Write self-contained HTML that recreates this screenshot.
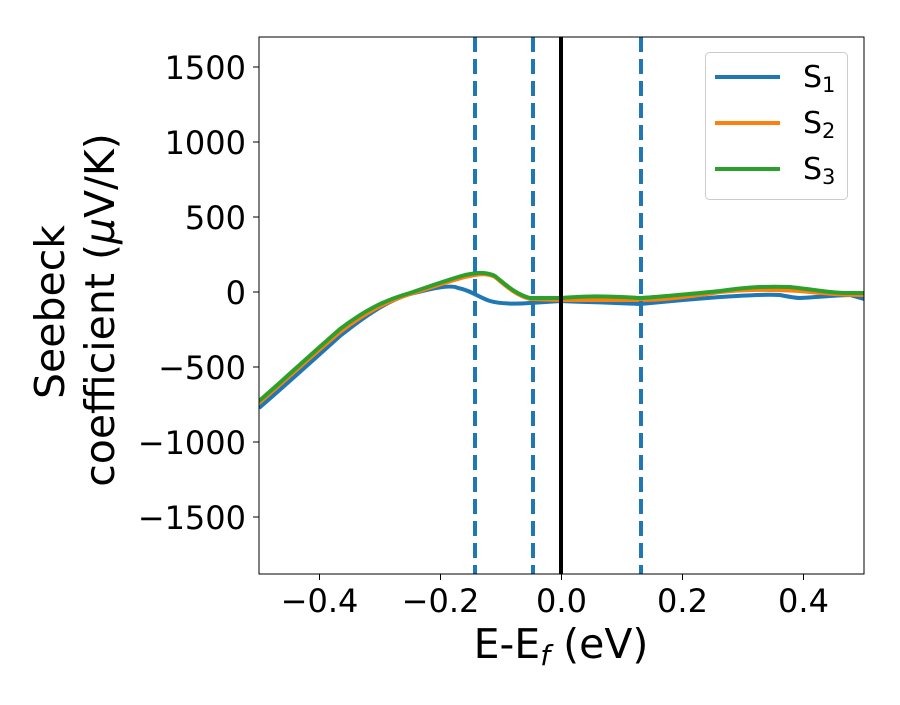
<!DOCTYPE html><html><head><style>body{margin:0;background:#fff}svg{font-family:"DejaVu Sans",sans-serif}</style></head><body>
<svg width="900" height="700" xmlns="http://www.w3.org/2000/svg">
<defs><clipPath id="c"><rect x="259" y="37" width="605" height="537"/></clipPath></defs>
<g clip-path="url(#c)" fill="none" stroke-width="4" stroke-linejoin="round">
<path stroke="#1f77b4" d="M259,408 C280,390 300,372 340,336 C370,312 390,300 410,294 C430,289 450,284 458,288 C470,290 480,298 490,301 C500,304 515,304 530,303 L561,301 C580,302 600,302 640,304 C660,302 680,300 720,297 C740,296 760,294 780,295 C790,297 795,298 800,298 C820,297 840,295 850,295 L864,299"/>
<path stroke="#ff7f0e" d="M259,403 C280,385 300,366 340,332 C365,313 385,302 410,294 C430,288 450,281 465,277 C475,275 485,272 495,277 C505,285 515,295 530,299 L561,300 L640,300 C660,300 680,298 720,292 C740,290 760,289 800,291 C820,293 840,295 864,295"/>
<path stroke="#2ca02c" d="M259,401 C280,383 300,364 340,329 C365,310 385,300 410,293 C430,286 450,279 465,275 C475,273 485,271 495,276 C505,284 515,294 530,298 L561,298 C575,297 590,295 640,298 C660,297 680,295 720,291 C740,288 760,286 790,287 C810,289 830,293 845,293 L864,293"/>
<g stroke="#1f77b4" stroke-width="4" stroke-dasharray="15,7"><line x1="475" y1="37" x2="475" y2="574"/><line x1="533" y1="37" x2="533" y2="574"/><line x1="641" y1="37" x2="641" y2="574"/></g>
<line x1="561" y1="37" x2="561" y2="574" stroke="#000" stroke-width="4"/>
</g>
<rect x="259" y="37" width="605" height="537" fill="none" stroke="#000" stroke-width="1"/>
<g stroke="#000" stroke-width="1">
<line x1="319.5" y1="574" x2="319.5" y2="580"/><line x1="440.5" y1="574" x2="440.5" y2="580"/><line x1="561.5" y1="574" x2="561.5" y2="580"/><line x1="682.5" y1="574" x2="682.5" y2="580"/><line x1="803.5" y1="574" x2="803.5" y2="580"/>
<line x1="253" y1="67" x2="259" y2="67"/><line x1="253" y1="142" x2="259" y2="142"/><line x1="253" y1="217" x2="259" y2="217"/><line x1="253" y1="292" x2="259" y2="292"/><line x1="253" y1="367" x2="259" y2="367"/><line x1="253" y1="442" x2="259" y2="442"/><line x1="253" y1="517" x2="259" y2="517"/>
</g>
<g font-size="32" fill="#000" text-anchor="middle">
<text x="319.5" y="612">−0.4</text><text x="440.5" y="612">−0.2</text><text x="561.5" y="612">0.0</text><text x="682.5" y="612">0.2</text><text x="803.5" y="612">0.4</text>
</g>
<g font-size="32" fill="#000" text-anchor="end">
<text x="246" y="79">1500</text><text x="246" y="154">1000</text><text x="246" y="229">500</text><text x="246" y="304">0</text><text x="246" y="379">−500</text><text x="246" y="454">−1000</text><text x="246" y="529">−1500</text>
</g>
<text x="561" y="658" font-size="41" text-anchor="middle">E-E<tspan font-style="italic" font-size="28" dy="7">f</tspan><tspan dy="-7"> (eV)</tspan></text>
<g font-size="41" text-anchor="middle">
<text transform="translate(64,312) rotate(-90)">Seebeck</text>
<text transform="translate(114,310) rotate(-90)">coefficient  (<tspan font-style="italic">μ</tspan>V/K)</text>
</g>
<rect x="705.5" y="52.5" width="142" height="147" rx="4" fill="#fff" stroke="#ccc"/>
<g stroke-width="4"><line x1="715" y1="77" x2="780" y2="77" stroke="#1f77b4"/><line x1="715" y1="123" x2="780" y2="123" stroke="#ff7f0e"/><line x1="715" y1="169" x2="780" y2="169" stroke="#2ca02c"/></g>
<g font-size="30"><text x="803" y="87">S<tspan font-size="21" dy="5">1</tspan></text><text x="803" y="133">S<tspan font-size="21" dy="5">2</tspan></text><text x="803" y="179">S<tspan font-size="21" dy="5">3</tspan></text></g>
</svg></body></html>
